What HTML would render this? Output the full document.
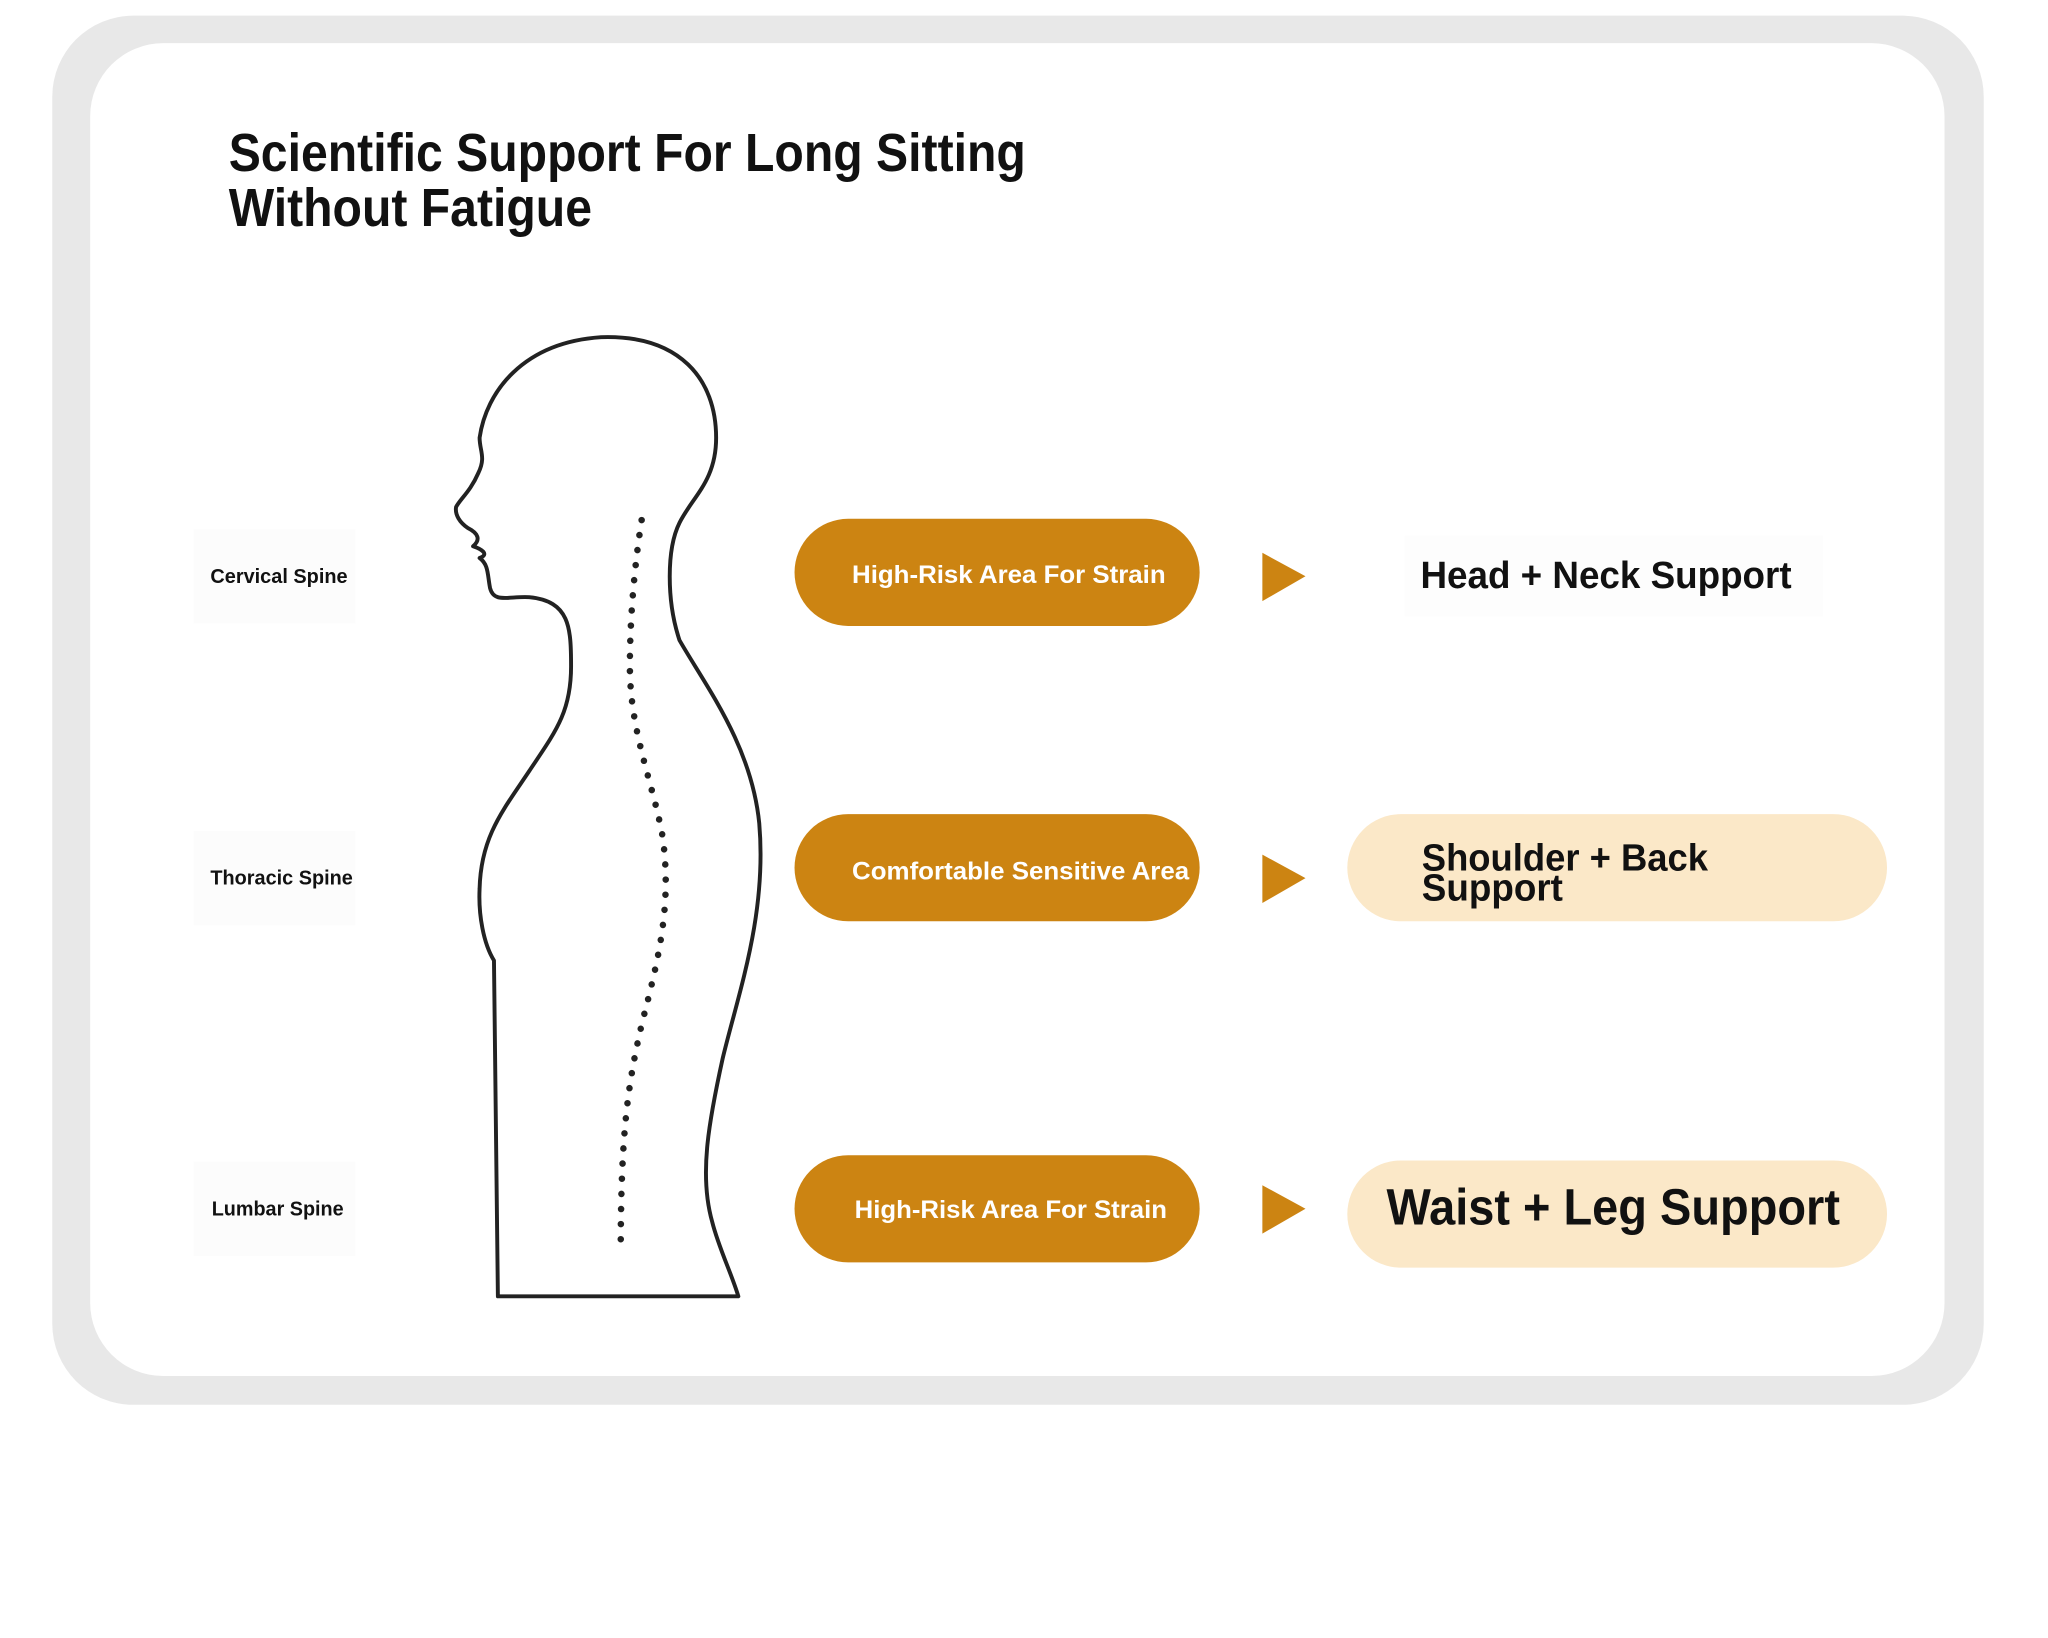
<!DOCTYPE html>
<html><head><meta charset="utf-8"><style>
html,body{margin:0;padding:0;background:#fff;}
svg{display:block;}
text{font-family:"Liberation Sans",sans-serif;font-weight:bold;}
</style></head><body>
<svg width="2048" height="1638" viewBox="0 0 2048 1638" xmlns="http://www.w3.org/2000/svg">
<g transform="scale(1.3068)">
  <rect x="40" y="12" width="1478" height="1063" rx="62" fill="#e8e8e8"/>
  <rect x="69" y="33" width="1419" height="1020" rx="56" fill="#fff"/>

  <text x="175" y="131" font-size="41" fill="#111" textLength="610" lengthAdjust="spacingAndGlyphs">Scientific Support For Long Sitting</text>
  <text x="175" y="173" font-size="41" fill="#111" textLength="278" lengthAdjust="spacingAndGlyphs">Without Fatigue</text>

  <rect x="148" y="405" width="124" height="72" fill="#fcfcfc"/>
  <rect x="148" y="636" width="124" height="72" fill="#fcfcfc"/>
  <rect x="148" y="889" width="124" height="72" fill="#fcfcfc"/>
  <text x="161" y="446" font-size="15.5" fill="#111" textLength="105" lengthAdjust="spacingAndGlyphs">Cervical Spine</text>
  <text x="161" y="677" font-size="15.5" fill="#111" textLength="109" lengthAdjust="spacingAndGlyphs">Thoracic Spine</text>
  <text x="162" y="930" font-size="15.5" fill="#111" textLength="101" lengthAdjust="spacingAndGlyphs">Lumbar Spine</text>

  <path d="M381,992 L378,735 C370,722 366,700 367,680 C368,640 385,620 405,590 C425,560 437,545 437,510 C437,480 436,460 405,457 C390,456 378,462 375,450 C373,440 374,432 367,427 C375,424 368,420 362,418 C368,413 366,408 358,404 C352,400 348,394 349,388 C352,382 360,376 366,362 C372,350 367,345 367,335 C372,300 400,262 460,258 C520,256 548,290 548,335 C548,368 530,380 520,400 C510,420 510,460 520,490 C540,525 575,570 581,630 C587,700 565,760 553,810 C542,860 535,900 545,935 C550,955 560,975 565,992 Z" fill="none" stroke="#222" stroke-width="3" stroke-linejoin="round"/>
  <path d="M491,398 C486,430 482,470 482,510 C482,560 500,600 507,640 C514,690 505,730 492,780 C480,830 475,870 475,958" fill="none" stroke="#222" stroke-width="5" stroke-linecap="round" stroke-dasharray="0 11.6"/>

  <g fill="#cc8412">
    <rect x="608" y="397" width="310" height="82" rx="41"/>
    <rect x="608" y="623" width="310" height="82" rx="41"/>
    <rect x="608" y="884" width="310" height="82" rx="41"/>
  </g>
  <text x="652" y="446" font-size="19" fill="#fff" textLength="240" lengthAdjust="spacingAndGlyphs">High-Risk Area For Strain</text>
  <text x="652" y="673" font-size="19" fill="#fff" textLength="258" lengthAdjust="spacingAndGlyphs">Comfortable Sensitive Area</text>
  <text x="654" y="932" font-size="19" fill="#fff" textLength="239" lengthAdjust="spacingAndGlyphs">High-Risk Area For Strain</text>

  <g fill="#cc8412">
    <polygon points="966,423 999,441 966,460"/>
    <polygon points="966,654 999,672 966,691"/>
    <polygon points="966,907 999,925 966,944"/>
  </g>

  <rect x="1075" y="410" width="320" height="62" fill="#fdfdfd"/>
  <text x="1087" y="450" font-size="29" fill="#111" textLength="284" lengthAdjust="spacingAndGlyphs">Head + Neck Support</text>
  <rect x="1031" y="623" width="413" height="82" rx="41" fill="#fbe8c8"/>
  <text x="1088" y="666" font-size="29" fill="#111" textLength="219" lengthAdjust="spacingAndGlyphs">Shoulder + Back</text>
  <text x="1088" y="689" font-size="29" fill="#111" textLength="108" lengthAdjust="spacingAndGlyphs">Support</text>
  <rect x="1031" y="888" width="413" height="82" rx="41" fill="#fbe8c8"/>
  <text x="1061" y="937" font-size="39" fill="#111" textLength="347" lengthAdjust="spacingAndGlyphs">Waist + Leg Support</text>
</g>
</svg>
</body></html>
